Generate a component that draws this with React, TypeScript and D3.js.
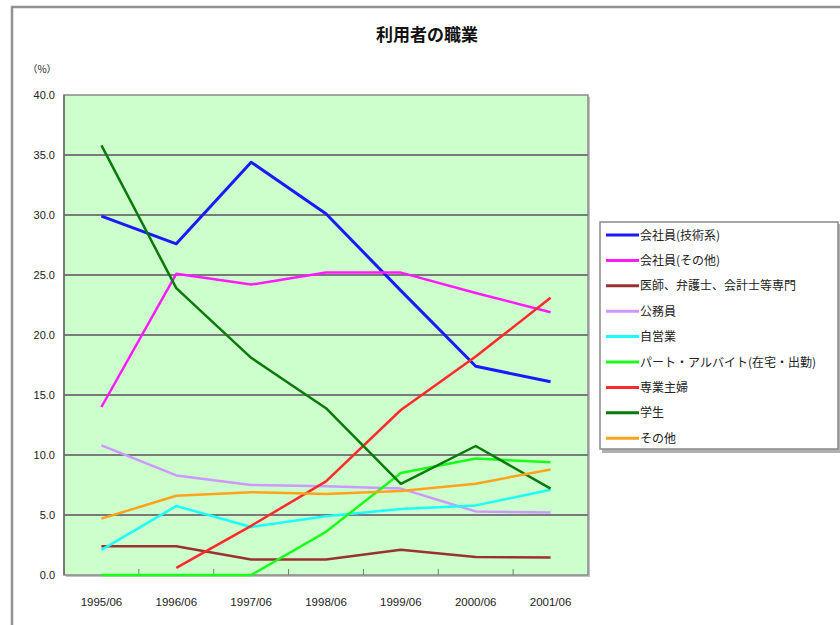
import React from "react";
import * as d3 from "d3";

// 調査時期
const periods = ["1995/06", "1996/06", "1997/06", "1998/06", "1999/06", "2000/06", "2001/06"];
const yTicks = [0, 5, 10, 15, 20, 25, 30, 35, 40];

// 各職業の割合 (%)
const engineers = [29.9, 27.6, 34.4, 30.1, 23.7, 17.4, 16.1];
const otherEmployees = [14.0, 25.1, 24.2, 25.2, 25.2, 23.5, 21.9];
const professionals = [2.4, 2.4, 1.3, 1.3, 2.1, 1.5, 1.45];
const civilServants = [10.8, 8.3, 7.5, 7.4, 7.2, 5.3, 5.2];
const selfEmployed = [2.1, 5.75, 4.0, 4.9, 5.5, 5.8, 7.1];
const partTimers = [0, 0, 0, 3.6, 8.5, 9.7, 9.4];
const housewives = [null, 0.6, 4.1, 7.8, 13.75, 18.2, 23.1];
const students = [35.8, 23.9, 18.1, 13.9, 7.6, 10.75, 7.2];
const others = [4.7, 6.6, 6.9, 6.75, 7.0, 7.6, 8.8];

const seriesNames = [
  "会社員(技術系)",
  "会社員(その他)",
  "医師、弁護士、会計士等専門",
  "公務員",
  "自営業",
  "パート・アルバイト(在宅・出勤)",
  "専業主婦",
  "学生",
  "その他",
];
const seriesValues = [
  engineers, otherEmployees, professionals, civilServants, selfEmployed,
  partTimers, housewives, students, others,
];
const seriesColors = [
  "#1a1aff", "#ff1aff", "#993333", "#cc99ff", "#1affff",
  "#1aff1a", "#ff2a2a", "#0a7a0a", "#ffa31a",
];

const JP = "'Noto Sans CJK JP', 'Noto Sans', sans-serif";
const NUM = "'Liberation Sans', Arial, sans-serif";

export default function App() {
  const plot = { left: 64, right: 588, top: 95, bottom: 575 };

  const x = d3.scaleBand<string>()
    .domain(periods)
    .range([plot.left, plot.right]);
  const cx = (i: number) => (x(periods[i]) as number) + x.bandwidth() / 2;

  const y = d3.scaleLinear().domain([0, 40]).range([plot.bottom, plot.top]);

  const line = d3.line<number | null>()
    .defined((d) => d !== null)
    .x((_, i) => cx(i))
    .y((d) => y(d as number));

  const legendX = 600, legendY = 222, legendRow = 25.4;

  return (
    <svg width={840} height={625} style={{ position: "absolute", left: 0, top: 0 }}>
      <rect x={0} y={0} width={840} height={625} fill="#fff" />
      {/* outer chart border */}
      <path d="M12,640 L12,7 L850,7" fill="none" stroke="#c8c8c8" strokeWidth={3} />
      <path d="M12,640 L12,7 L850,7" fill="none" stroke="#808080" strokeWidth={1.5} />

      <text x={427} y={41} textAnchor="middle" fontFamily={JP} fontWeight="bold" fontSize={17} fill="#111">
        利用者の職業
      </text>

      {/* plot area */}
      <rect x={plot.left + 2} y={plot.top + 2} width={plot.right - plot.left} height={plot.bottom - plot.top}
        fill="#c0c0c0" />
      <rect x={plot.left} y={plot.top} width={plot.right - plot.left} height={plot.bottom - plot.top}
        fill="#ccffcc" stroke="#8a8a8a" strokeWidth={1.5} />

      {yTicks.filter((t) => t > 0 && t < 40).map((t) => (
        <line key={t} x1={plot.left} x2={plot.right} y1={y(t)} y2={y(t)} stroke="#7a7a7a" strokeWidth={2} />
      ))}
      <line x1={plot.left} x2={plot.left} y1={plot.top} y2={plot.bottom} stroke="#6a6a6a" strokeWidth={1.5} />

      {periods.slice(1).map((p) => (
        <line key={p} x1={x(p)} x2={x(p)} y1={plot.bottom} y2={plot.bottom - 6} stroke="#7a7a7a" strokeWidth={1} />
      ))}

      {yTicks.map((t) => (
        <text key={t} x={55} y={y(t) + 4} textAnchor="end" fontFamily={NUM} fontSize={11} fill="#222">
          {t.toFixed(1)}
        </text>
      ))}
      <text x={42} y={73} textAnchor="middle" fontFamily={JP} fontSize={10} fill="#222">（%）</text>

      {periods.map((p, i) => (
        <text key={p} x={cx(i)} y={606} textAnchor="middle" fontFamily={NUM} fontSize={11.5} fill="#222">
          {p}
        </text>
      ))}

      {seriesValues.map((vals, k) => (
        <path key={k} d={line(vals) || ""} fill="none" stroke={seriesColors[k]}
          strokeWidth={k === 0 ? 3 : 2.5} strokeLinejoin="round" />
      ))}

      {/* legend */}
      <rect x={legendX + 2} y={legendY + 2} width={240} height={229} fill="#b0b0b0" />
      <rect x={legendX} y={legendY} width={238} height={227} fill="#fff" stroke="#8a8a8a" strokeWidth={1.5} />
      {seriesNames.map((name, k) => {
        const ly = legendY + 13 + k * legendRow;
        return (
          <g key={name}>
            <line x1={legendX + 6} x2={legendX + 39} y1={ly} y2={ly} stroke={seriesColors[k]} strokeWidth={3} />
            <text x={legendX + 40} y={ly + 4.5} fontFamily={JP} fontSize={12} fill="#222">{name}</text>
          </g>
        );
      })}
    </svg>
  );
}
